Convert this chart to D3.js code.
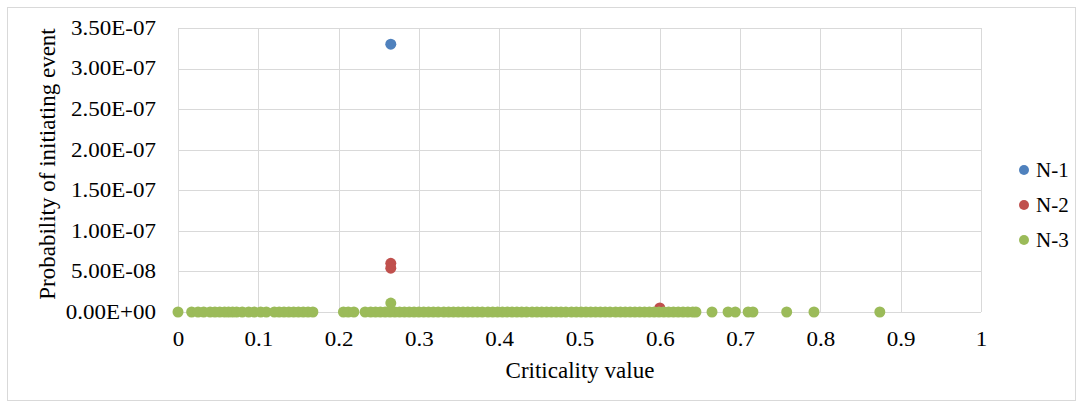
<!DOCTYPE html>
<html><head><meta charset="utf-8">
<script src="https://cdn.jsdelivr.net/npm/d3@7"></script>
<style>body{margin:0;background:#fff;}svg{display:block;}text{font-family:"Liberation Serif","Times New Roman",serif;fill:#000;}</style>
</head><body><svg id="c" width="1083" height="403"></svg>
<script>
const seriesNames = ["N-1","N-2","N-3"];
const seriesColors = ["#4F81BD","#C0504D","#9BBB59"];
const n1X = [0.265];
const n1Y = [3.30e-7];
const n2X = [0.265, 0.265, 0.600];
const n2Y = [6.0e-8, 5.4e-8, 5.0e-9];
const n3X = [0.265, 0.0,
 0.017,0.025,0.032,0.040,0.046,0.052,0.058,0.063,0.068,0.073,
 0.080,0.088,0.095,0.103,0.110,
 0.120,0.126,0.132,0.138,0.144,0.150,0.156,0.162,0.168,
 0.206,0.212,0.219,
 0.233,0.240,0.246,0.252,0.258,0.264,0.270,0.276,0.282,0.288,0.294,0.300,0.306,0.312,0.318,0.324,0.331,0.337,0.343,0.349,
 0.355,0.361,0.367,0.373,0.379,0.386,0.392,0.398,0.404,0.410,0.416,0.422,0.428,0.434,0.441,0.447,0.453,0.459,0.465,
 0.471,0.477,0.483,0.490,0.496,0.502,0.508,0.514,0.520,0.526,0.532,0.538,0.545,0.551,0.557,0.563,0.569,0.575,
 0.581,0.587,0.593,0.599,0.605,0.611,0.617,0.623,0.629,0.635,0.641,0.645,
 0.665,0.685,0.694,0.710,0.716,0.758,0.792,0.874];
const n3Y = [1.1e-8].concat(new Array(n3X.length-1).fill(0));
const xTicks = [0,0.1,0.2,0.3,0.4,0.5,0.6,0.7,0.8,0.9,1];
const xTickLabels = ["0","0.1","0.2","0.3","0.4","0.5","0.6","0.7","0.8","0.9","1"];
const yTicks = [0,5e-8,1e-7,1.5e-7,2e-7,2.5e-7,3e-7,3.5e-7];
const yTickLabels = ["0.00E+00","5.00E-08","1.00E-07","1.50E-07","2.00E-07","2.50E-07","3.00E-07","3.50E-07"];

const svg = d3.select("#c");
svg.append("rect").attr("x",7.5).attr("y",7.5).attr("width",1068).attr("height",393)
  .attr("fill","#fff").attr("stroke","#d9d9d9");
const L=178,R=981,T=28,B=312;
const x = d3.scaleLinear().domain([0,1]).range([L,R]);
const y = d3.scaleLinear().domain([0,3.5e-7]).range([B,T]);

const grid = svg.append("g").attr("stroke","#d9d9d9").attr("stroke-width",1);
xTicks.forEach(t=>grid.append("line").attr("x1",Math.round(x(t))+0.5).attr("x2",Math.round(x(t))+0.5).attr("y1",T).attr("y2",B));
yTicks.forEach(t=>grid.append("line").attr("x1",L).attr("x2",R).attr("y1",Math.round(y(t))+0.5).attr("y2",Math.round(y(t))+0.5));

const SX = 1.15;
const xAxis = d3.axisBottom(x).tickValues(xTicks).tickFormat((d,i)=>xTickLabels[i]).tickSize(0).tickPadding(20);
const gx = svg.append("g").attr("transform",`translate(0,${B})`).call(xAxis);
gx.select(".domain").remove();
gx.selectAll("text").attr("font-size","20px").attr("font-family","Liberation Serif").attr("transform",`scale(${SX},1)`);

const yAxis = d3.axisLeft(y).tickValues(yTicks).tickFormat((d,i)=>yTickLabels[i]).tickSize(0).tickPadding(22);
const gy = svg.append("g").attr("transform",`translate(${L},0)`).call(yAxis);
gy.select(".domain").remove();
gy.selectAll("text").attr("font-size","20px").attr("font-family","Liberation Serif")
  .attr("transform",`translate(-22,0) scale(${SX},1) translate(22,0)`);

const series = [[n1X,n1Y],[n2X,n2Y],[n3X,n3Y]];
series.forEach((s,si)=>{
  const pts = s[0].map((v,i)=>[v,s[1][i]]);
  svg.append("g").selectAll("circle").data(pts).join("circle")
    .attr("cx",d=>x(d[0])).attr("cy",d=>y(d[1])).attr("r",5.5)
    .attr("fill",seriesColors[si]);
});

svg.append("text").attr("x",580).attr("y",378).attr("text-anchor","middle")
  .attr("font-size","23px").text("Criticality value");
svg.append("text").attr("transform","translate(55,164) rotate(-90)").attr("text-anchor","middle")
  .attr("font-size","23px").text("Probability of initiating event");

const lg = svg.append("g");
seriesNames.forEach((n,i)=>{
  const yy = 170 + i*35;
  lg.append("circle").attr("cx",1024).attr("cy",yy).attr("r",5).attr("fill",seriesColors[i]);
  lg.append("text").attr("x",1036).attr("y",yy).attr("dy","0.35em").attr("font-size","21px").text(n);
});
</script></body></html>
